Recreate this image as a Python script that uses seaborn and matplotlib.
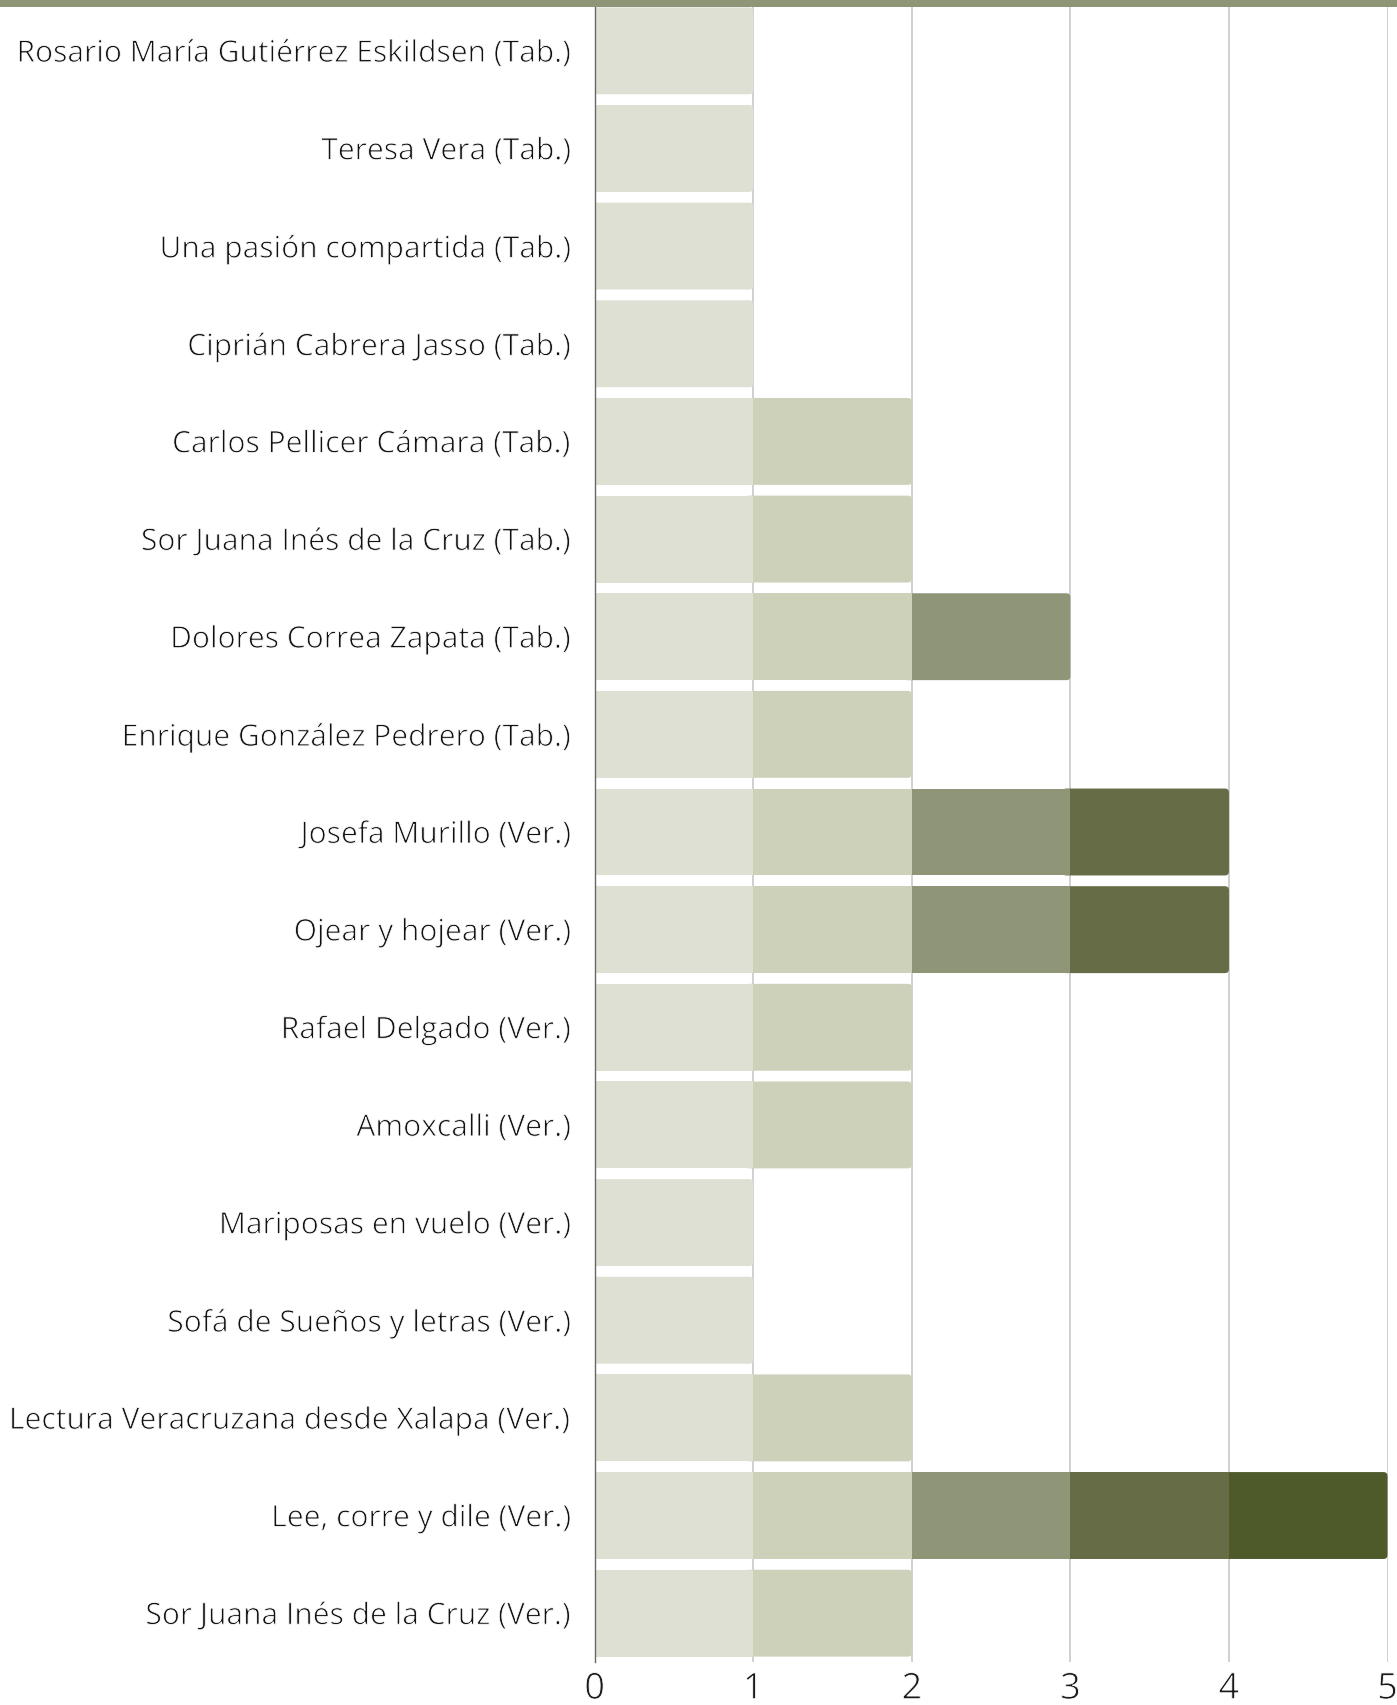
import matplotlib
matplotlib.use("Agg")
import matplotlib.pyplot as plt
from matplotlib.patches import Rectangle, FancyBboxPatch
import matplotlib.patheffects as pe
import seaborn as sns
import pandas as pd
import numpy as np

categories = [
    "Rosario María Gutiérrez Eskildsen (Tab.)",
    "Teresa Vera (Tab.)",
    "Una pasión compartida (Tab.)",
    "Ciprián Cabrera Jasso (Tab.)",
    "Carlos Pellicer Cámara (Tab.)",
    "Sor Juana Inés de la Cruz (Tab.)",
    "Dolores Correa Zapata (Tab.)",
    "Enrique González Pedrero (Tab.)",
    "Josefa Murillo (Ver.)",
    "Ojear y hojear (Ver.)",
    "Rafael Delgado (Ver.)",
    "Amoxcalli (Ver.)",
    "Mariposas en vuelo (Ver.)",
    "Sofá de Sueños y letras (Ver.)",
    "Lectura Veracruzana desde Xalapa (Ver.)",
    "Lee, corre y dile (Ver.)",
    "Sor Juana Inés de la Cruz (Ver.)",
]
seg1 = [1, 1, 1, 1, 1, 1, 1, 1, 1, 1, 1, 1, 1, 1, 1, 1, 1]
seg2 = [0, 0, 0, 0, 1, 1, 1, 1, 1, 1, 1, 1, 0, 0, 1, 1, 1]
seg3 = [0, 0, 0, 0, 0, 0, 1, 0, 1, 1, 0, 0, 0, 0, 0, 1, 0]
seg4 = [0, 0, 0, 0, 0, 0, 0, 0, 1, 1, 0, 0, 0, 0, 0, 1, 0]
seg5 = [0, 0, 0, 0, 0, 0, 0, 0, 0, 0, 0, 0, 0, 0, 0, 1, 0]
seg_colors = ["#DFE0D4", "#CDD1BA", "#8F9577", "#666C45", "#4F5A2B"]
x_ticks = [0, 1, 2, 3, 4, 5]

sns.set_theme(style="white")
plt.rcParams["font.family"] = ["Open Sans", "DejaVu Sans"]

segs = np.array([seg1, seg2, seg3, seg4, seg5])
cum = np.cumsum(segs, axis=0)
totals = cum[-1]

W, H = 1397, 1705
ax_left, ax_right, ax_top, ax_bottom = 594.7, 1387.5, 2.0, 1662.0
fig = plt.figure(figsize=(W / 100, H / 100), dpi=100)
ax = fig.add_axes([ax_left / W, 1 - ax_bottom / H, (ax_right - ax_left) / W, (ax_bottom - ax_top) / H])

px_per_x = (ax_right - ax_left) / 5
px_per_y = (ax_bottom - ax_top) / len(categories)
r_px = 4.0
r = r_px / px_per_x
aspect = (r_px / px_per_y) / r

for k in range(len(segs)):
    df = pd.DataFrame({"cat": categories, "val": segs[k]})
    n0 = len(ax.patches)
    sns.barplot(data=df, x="val", y="cat", orient="h", color=seg_colors[k],
                saturation=1, width=0.89, ax=ax, linewidth=0, order=categories)
    new = list(ax.patches)[n0:]
    for row, p in enumerate(new):
        left = cum[k][row] - segs[k][row]
        p.set_x(left)
        p.set_zorder(3 + 0.1 * k)
        if segs[k][row] == 1 and cum[k][row] == totals[row]:
            # outer end of the bar: rounded right corners; left part tucked under
            fb = FancyBboxPatch((left - 0.05, p.get_y()), p.get_width() + 0.05, p.get_height(),
                                boxstyle=f"round,pad=0,rounding_size={r}",
                                mutation_aspect=aspect,
                                facecolor=p.get_facecolor(), edgecolor="none",
                                linewidth=0, zorder=2)
            p.set_visible(False)
            ax.add_patch(fb)

ax.set_xlim(0, 5)
ax.set_ylim(len(categories) - 0.5, -0.5)
ax.set_xticks(x_ticks)
ax.set_xticklabels([str(t) for t in x_ticks])
ax.set_xlabel("")
ax.set_ylabel("")
for s in ["top", "right", "bottom"]:
    ax.spines[s].set_visible(False)
ax.spines["left"].set_color("#666666")
ax.spines["left"].set_linewidth(1.0)
ax.spines["left"].set_zorder(5)
ax.grid(axis="x", color="#C8C8C8", linewidth=1.2, zorder=0)
ax.set_axisbelow(True)
ax.tick_params(axis="y", length=0, pad=16.5, labelsize=21.6, labelcolor="#111111")
ax.tick_params(axis="x", length=0, pad=7, labelsize=26, labelcolor="#1a1a1a")
for lab in ax.get_yticklabels():
    lab.set_path_effects([pe.Stroke(linewidth=0.6, foreground="white")])
    lab.set_y(lab.get_position()[1])
for lab in ax.get_xticklabels():
    lab.set_path_effects([pe.Stroke(linewidth=0.6, foreground="white")])

fig.add_artist(Rectangle((0, 1 - 7 / H), 1, 7 / H, transform=fig.transFigure,
                         facecolor="#8F9577", edgecolor="none", zorder=10))

fig.savefig("out.png", dpi=100)
